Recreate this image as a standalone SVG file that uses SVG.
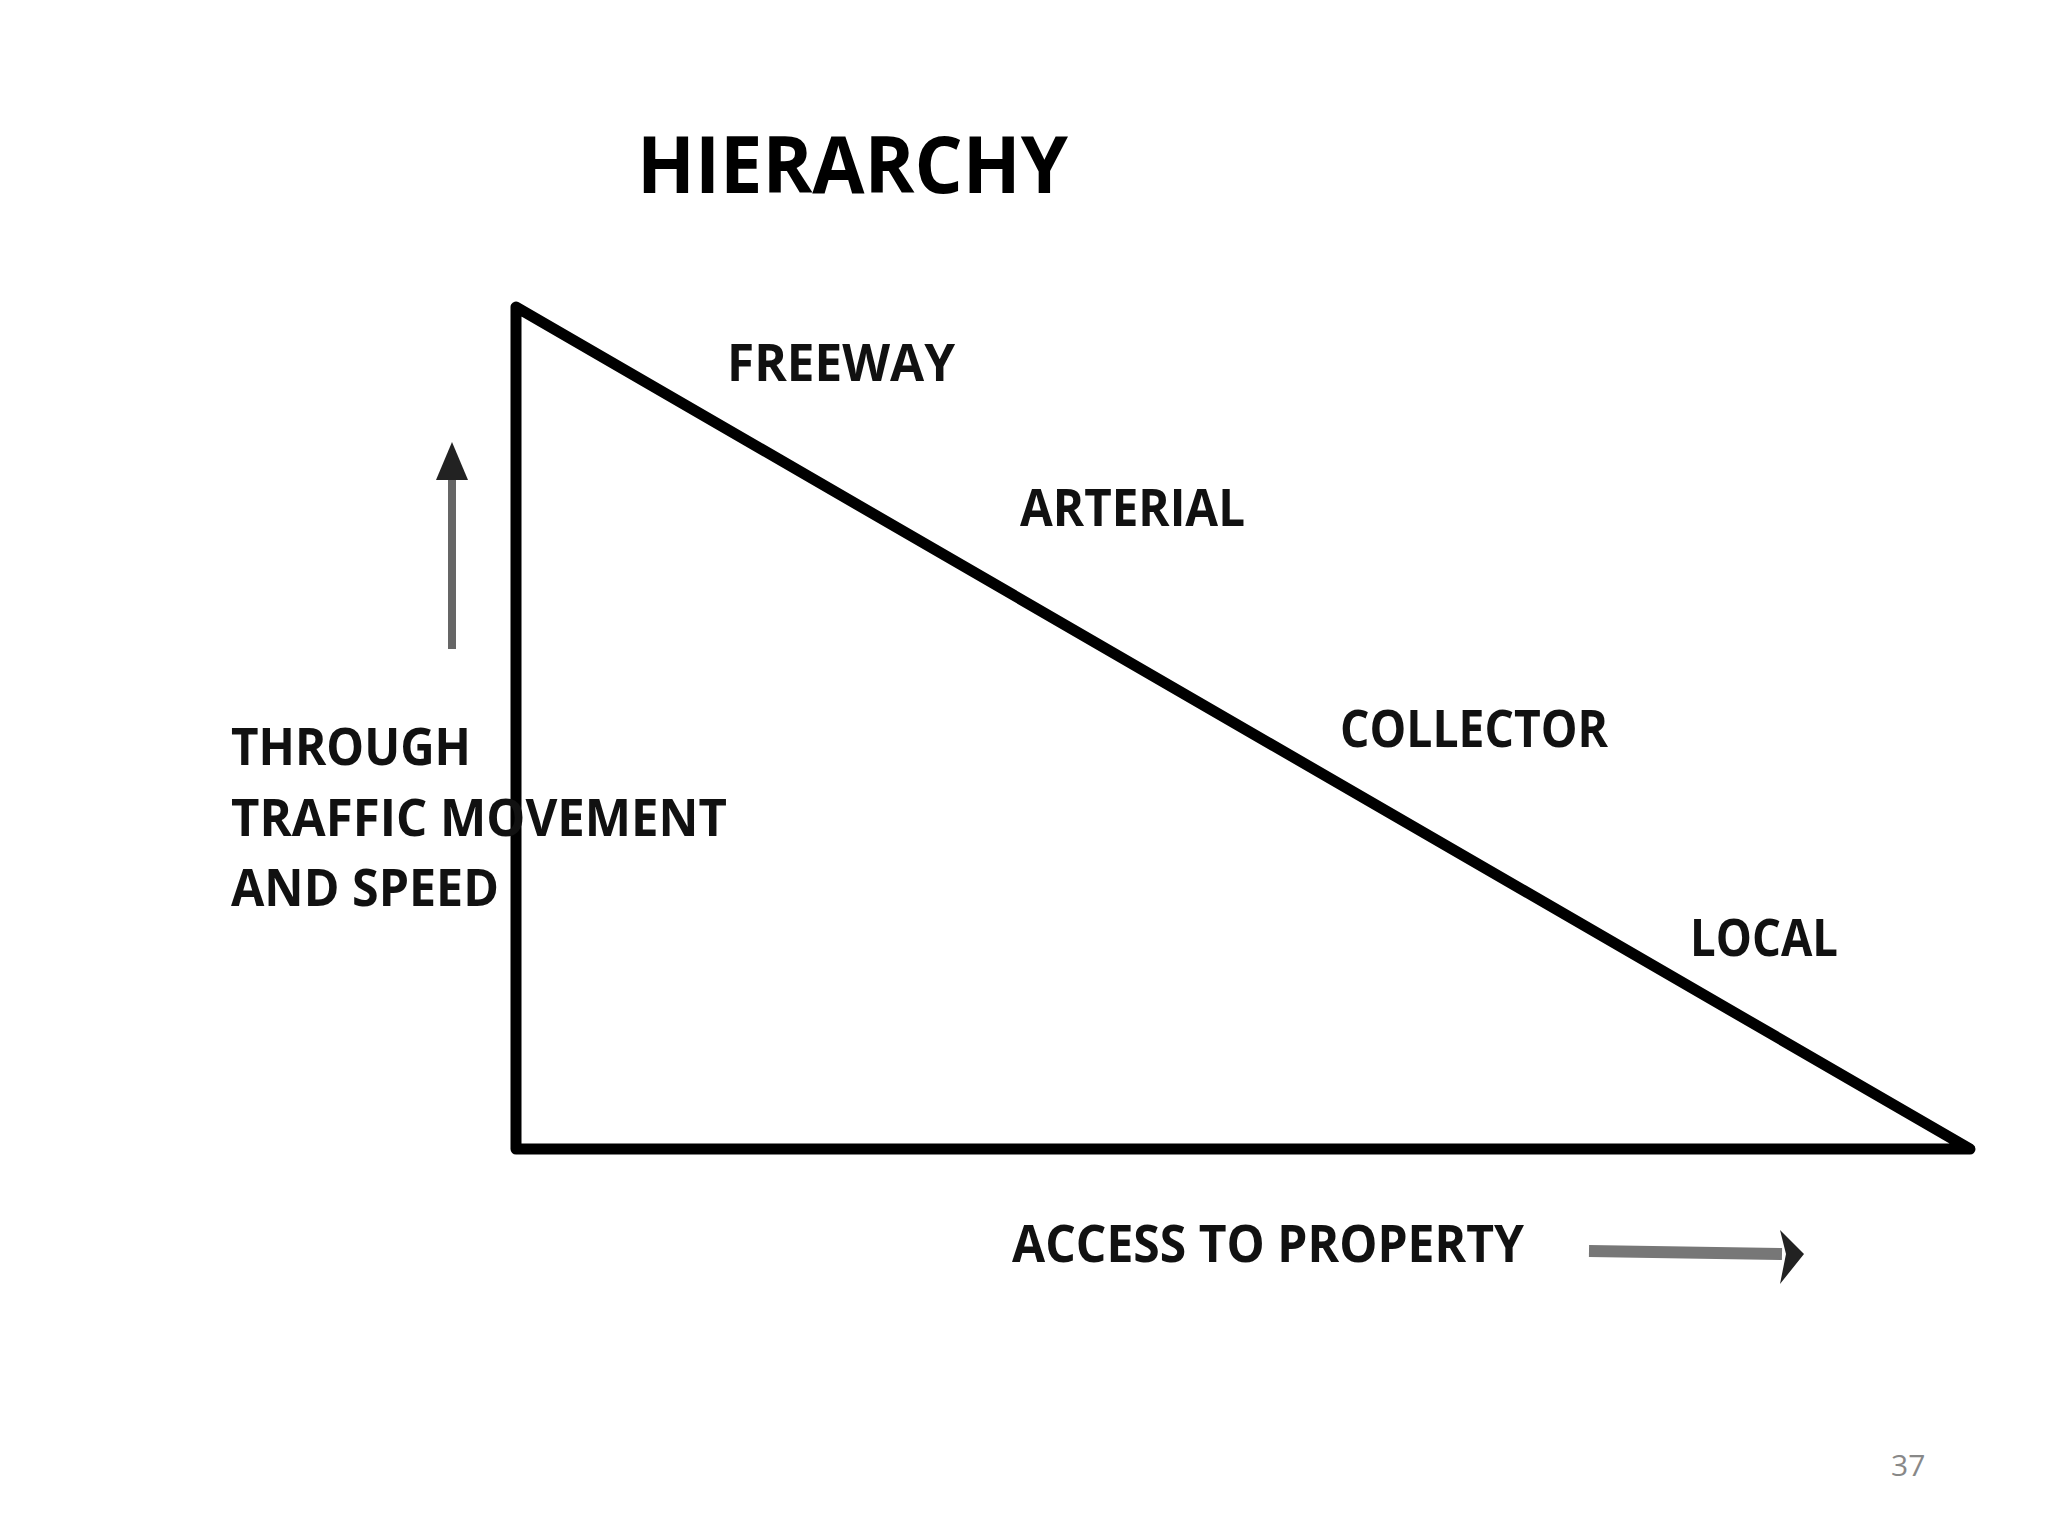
<svg xmlns="http://www.w3.org/2000/svg" width="2048" height="1536" viewBox="0 0 2048 1536">
<style>
.lbl{font-family:"Open Sans","Liberation Sans",sans-serif;font-weight:bold;fill:#111;}
.title{font-family:"Open Sans","Liberation Sans",sans-serif;font-weight:bold;fill:#000;font-size:78px;}
.pg{font-family:"Open Sans","Liberation Sans",sans-serif;fill:#888;font-size:30px;}
</style>
<rect width="2048" height="1536" fill="#fff"/>
<text class="title" x="637" y="193" textLength="431" lengthAdjust="spacingAndGlyphs">HIERARCHY</text>
<g id="triangle">
<polygon points="516,307 516,1149 1970,1149" fill="none" stroke="#000" stroke-width="11" stroke-linejoin="round"/>
</g>
<g id="freeway"><text class="lbl" x="727" y="381" font-size="52" textLength="228" lengthAdjust="spacingAndGlyphs">FREEWAY</text></g>
<g id="arterial"><text class="lbl" x="1020" y="526" font-size="52" textLength="225" lengthAdjust="spacingAndGlyphs">ARTERIAL</text></g>
<g id="collector"><text class="lbl" x="1340" y="747" font-size="52" textLength="268" lengthAdjust="spacingAndGlyphs">COLLECTOR</text></g>
<g id="local"><text class="lbl" x="1690" y="956" font-size="52" textLength="148" lengthAdjust="spacingAndGlyphs">LOCAL</text></g>
<g id="through">
<text class="lbl" x="231" y="765" font-size="52" textLength="240" lengthAdjust="spacingAndGlyphs">THROUGH</text>
<text class="lbl" x="231" y="836" font-size="52" textLength="496" lengthAdjust="spacingAndGlyphs">TRAFFIC MOVEMENT</text>
<text class="lbl" x="231" y="906" font-size="52" textLength="268" lengthAdjust="spacingAndGlyphs">AND SPEED</text>
</g>
<g id="access"><text class="lbl" x="1012" y="1262" font-size="52" textLength="512" lengthAdjust="spacingAndGlyphs">ACCESS TO PROPERTY</text></g>
<g id="connectors">
<line x1="452" y1="649" x2="452" y2="472" stroke="#666" stroke-width="8"/>
<polygon points="452,442 436,480 468,480" fill="#222"/>
<line x1="1589" y1="1251" x2="1782" y2="1254" stroke="#777" stroke-width="12"/>
<polygon points="1804,1254 1780,1230 1786,1254 1780,1284" fill="#222"/>
</g>
<text class="pg" x="1891" y="1476">37</text>
</svg>
